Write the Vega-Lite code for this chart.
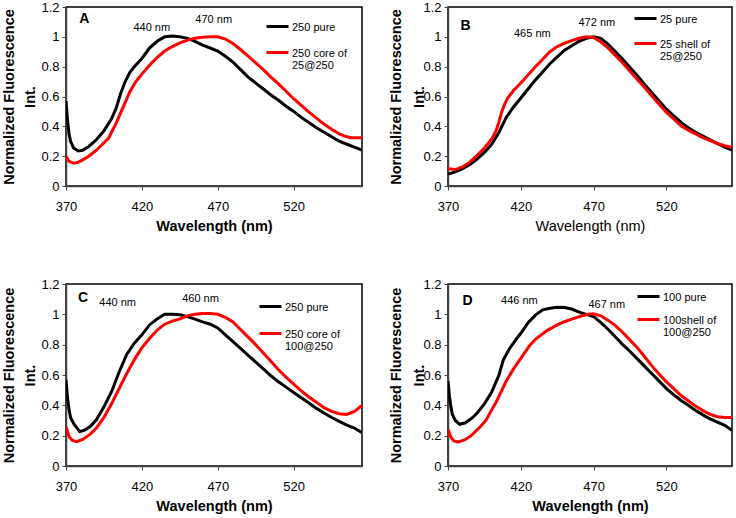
{
  "$schema": "https://vega.github.io/schema/vega-lite/v6.json",
  "padding": {"left": 1, "top": 0, "right": 2, "bottom": 2},
  "background": "white",
  "config": {
    "font": "Liberation Sans",
    "view": {"stroke": "#000000", "strokeWidth": 1.5},
    "axis": {
      "grid": false, "labelFontSize": 13, "labelColor": "#000000", "labelFlush": false, "labelOverlap": false,
      "titleFontSize": 14.5, "titleFontWeight": "bold", "titleColor": "#000000",
      "domainColor": "#444444", "domainWidth": 1.5, "tickColor": "#444444", "tickSize": 4, "tickWidth": 1, "tickCount": 10
    },
    "axisX": {"labelPadding": 10, "titlePadding": 6},
    "axisY": {"labelPadding": 3},
    "legend": {
      "orient": "none", "title": null, "symbolType": "stroke", "symbolSize": 484, "symbolStrokeWidth": 3,
      "labelFontSize": 11, "labelColor": "#000000", "labelBaseline": "alphabetic", "labelOffset": 2, "labelLimit": 200,
      "padding": 0
    },
    "text": {"font": "Liberation Sans", "color": "#000000"}
  },
  "datasets": {
    "spectra": [
      {"panel":"A","series":"250 pure","wavelength":370,"value":0.57},{"panel":"A","series":"250 pure","wavelength":371,"value":0.44},{"panel":"A","series":"250 pure","wavelength":372,"value":0.35},{"panel":"A","series":"250 pure","wavelength":373,"value":0.30},{"panel":"A","series":"250 pure","wavelength":375,"value":0.255},{"panel":"A","series":"250 pure","wavelength":378,"value":0.235},{"panel":"A","series":"250 pure","wavelength":381,"value":0.24},{"panel":"A","series":"250 pure","wavelength":385,"value":0.265},{"panel":"A","series":"250 pure","wavelength":390,"value":0.31},{"panel":"A","series":"250 pure","wavelength":395,"value":0.37},{"panel":"A","series":"250 pure","wavelength":400,"value":0.45},{"panel":"A","series":"250 pure","wavelength":403,"value":0.52},{"panel":"A","series":"250 pure","wavelength":406,"value":0.62},{"panel":"A","series":"250 pure","wavelength":409,"value":0.70},{"panel":"A","series":"250 pure","wavelength":412,"value":0.76},{"panel":"A","series":"250 pure","wavelength":415,"value":0.80},{"panel":"A","series":"250 pure","wavelength":420,"value":0.855},{"panel":"A","series":"250 pure","wavelength":425,"value":0.925},{"panel":"A","series":"250 pure","wavelength":430,"value":0.97},{"panel":"A","series":"250 pure","wavelength":435,"value":1.0},{"panel":"A","series":"250 pure","wavelength":440,"value":1.005},{"panel":"A","series":"250 pure","wavelength":445,"value":1.0},{"panel":"A","series":"250 pure","wavelength":450,"value":0.99},{"panel":"A","series":"250 pure","wavelength":455,"value":0.97},{"panel":"A","series":"250 pure","wavelength":460,"value":0.944},{"panel":"A","series":"250 pure","wavelength":465,"value":0.925},{"panel":"A","series":"250 pure","wavelength":470,"value":0.905},{"panel":"A","series":"250 pure","wavelength":475,"value":0.87},{"panel":"A","series":"250 pure","wavelength":480,"value":0.83},{"panel":"A","series":"250 pure","wavelength":485,"value":0.78},{"panel":"A","series":"250 pure","wavelength":490,"value":0.73},{"panel":"A","series":"250 pure","wavelength":495,"value":0.69},{"panel":"A","series":"250 pure","wavelength":500,"value":0.65},{"panel":"A","series":"250 pure","wavelength":505,"value":0.61},{"panel":"A","series":"250 pure","wavelength":510,"value":0.575},{"panel":"A","series":"250 pure","wavelength":515,"value":0.535},{"panel":"A","series":"250 pure","wavelength":520,"value":0.50},{"panel":"A","series":"250 pure","wavelength":525,"value":0.46},{"panel":"A","series":"250 pure","wavelength":530,"value":0.425},{"panel":"A","series":"250 pure","wavelength":535,"value":0.39},{"panel":"A","series":"250 pure","wavelength":540,"value":0.36},{"panel":"A","series":"250 pure","wavelength":545,"value":0.33},{"panel":"A","series":"250 pure","wavelength":550,"value":0.30},{"panel":"A","series":"250 pure","wavelength":555,"value":0.28},{"panel":"A","series":"250 pure","wavelength":560,"value":0.26},{"panel":"A","series":"250 pure","wavelength":565,"value":0.24},
      {"panel":"A","series":"250 core of 25@250","wavelength":370,"value":0.20},{"panel":"A","series":"250 core of 25@250","wavelength":372,"value":0.165},{"panel":"A","series":"250 core of 25@250","wavelength":375,"value":0.153},{"panel":"A","series":"250 core of 25@250","wavelength":378,"value":0.158},{"panel":"A","series":"250 core of 25@250","wavelength":381,"value":0.175},{"panel":"A","series":"250 core of 25@250","wavelength":385,"value":0.20},{"panel":"A","series":"250 core of 25@250","wavelength":390,"value":0.24},{"panel":"A","series":"250 core of 25@250","wavelength":395,"value":0.29},{"panel":"A","series":"250 core of 25@250","wavelength":398,"value":0.32},{"panel":"A","series":"250 core of 25@250","wavelength":400,"value":0.36},{"panel":"A","series":"250 core of 25@250","wavelength":403,"value":0.42},{"panel":"A","series":"250 core of 25@250","wavelength":406,"value":0.49},{"panel":"A","series":"250 core of 25@250","wavelength":409,"value":0.56},{"panel":"A","series":"250 core of 25@250","wavelength":412,"value":0.63},{"panel":"A","series":"250 core of 25@250","wavelength":416,"value":0.70},{"panel":"A","series":"250 core of 25@250","wavelength":420,"value":0.75},{"panel":"A","series":"250 core of 25@250","wavelength":425,"value":0.81},{"panel":"A","series":"250 core of 25@250","wavelength":430,"value":0.86},{"panel":"A","series":"250 core of 25@250","wavelength":435,"value":0.905},{"panel":"A","series":"250 core of 25@250","wavelength":440,"value":0.935},{"panel":"A","series":"250 core of 25@250","wavelength":445,"value":0.96},{"panel":"A","series":"250 core of 25@250","wavelength":450,"value":0.978},{"panel":"A","series":"250 core of 25@250","wavelength":455,"value":0.99},{"panel":"A","series":"250 core of 25@250","wavelength":460,"value":0.997},{"panel":"A","series":"250 core of 25@250","wavelength":465,"value":1.0},{"panel":"A","series":"250 core of 25@250","wavelength":470,"value":1.0},{"panel":"A","series":"250 core of 25@250","wavelength":475,"value":0.985},{"panel":"A","series":"250 core of 25@250","wavelength":480,"value":0.955},{"panel":"A","series":"250 core of 25@250","wavelength":485,"value":0.915},{"panel":"A","series":"250 core of 25@250","wavelength":490,"value":0.87},{"panel":"A","series":"250 core of 25@250","wavelength":495,"value":0.825},{"panel":"A","series":"250 core of 25@250","wavelength":500,"value":0.78},{"panel":"A","series":"250 core of 25@250","wavelength":505,"value":0.73},{"panel":"A","series":"250 core of 25@250","wavelength":510,"value":0.685},{"panel":"A","series":"250 core of 25@250","wavelength":515,"value":0.635},{"panel":"A","series":"250 core of 25@250","wavelength":520,"value":0.585},{"panel":"A","series":"250 core of 25@250","wavelength":525,"value":0.54},{"panel":"A","series":"250 core of 25@250","wavelength":530,"value":0.495},{"panel":"A","series":"250 core of 25@250","wavelength":535,"value":0.455},{"panel":"A","series":"250 core of 25@250","wavelength":540,"value":0.415},{"panel":"A","series":"250 core of 25@250","wavelength":545,"value":0.38},{"panel":"A","series":"250 core of 25@250","wavelength":550,"value":0.35},{"panel":"A","series":"250 core of 25@250","wavelength":555,"value":0.33},{"panel":"A","series":"250 core of 25@250","wavelength":558,"value":0.323},{"panel":"A","series":"250 core of 25@250","wavelength":565,"value":0.323},
      {"panel":"B","series":"25 pure","wavelength":370,"value":0.08},{"panel":"B","series":"25 pure","wavelength":375,"value":0.095},{"panel":"B","series":"25 pure","wavelength":380,"value":0.117},{"panel":"B","series":"25 pure","wavelength":385,"value":0.145},{"panel":"B","series":"25 pure","wavelength":390,"value":0.18},{"panel":"B","series":"25 pure","wavelength":395,"value":0.225},{"panel":"B","series":"25 pure","wavelength":400,"value":0.28},{"panel":"B","series":"25 pure","wavelength":405,"value":0.36},{"panel":"B","series":"25 pure","wavelength":408,"value":0.42},{"panel":"B","series":"25 pure","wavelength":410,"value":0.46},{"panel":"B","series":"25 pure","wavelength":415,"value":0.53},{"panel":"B","series":"25 pure","wavelength":420,"value":0.59},{"panel":"B","series":"25 pure","wavelength":425,"value":0.65},{"panel":"B","series":"25 pure","wavelength":430,"value":0.71},{"panel":"B","series":"25 pure","wavelength":435,"value":0.765},{"panel":"B","series":"25 pure","wavelength":440,"value":0.82},{"panel":"B","series":"25 pure","wavelength":445,"value":0.865},{"panel":"B","series":"25 pure","wavelength":450,"value":0.91},{"panel":"B","series":"25 pure","wavelength":455,"value":0.94},{"panel":"B","series":"25 pure","wavelength":460,"value":0.97},{"panel":"B","series":"25 pure","wavelength":465,"value":0.99},{"panel":"B","series":"25 pure","wavelength":470,"value":1.0},{"panel":"B","series":"25 pure","wavelength":475,"value":0.99},{"panel":"B","series":"25 pure","wavelength":480,"value":0.95},{"panel":"B","series":"25 pure","wavelength":485,"value":0.9},{"panel":"B","series":"25 pure","wavelength":490,"value":0.85},{"panel":"B","series":"25 pure","wavelength":495,"value":0.795},{"panel":"B","series":"25 pure","wavelength":500,"value":0.74},{"panel":"B","series":"25 pure","wavelength":505,"value":0.68},{"panel":"B","series":"25 pure","wavelength":510,"value":0.625},{"panel":"B","series":"25 pure","wavelength":515,"value":0.57},{"panel":"B","series":"25 pure","wavelength":520,"value":0.515},{"panel":"B","series":"25 pure","wavelength":525,"value":0.47},{"panel":"B","series":"25 pure","wavelength":530,"value":0.426},{"panel":"B","series":"25 pure","wavelength":535,"value":0.39},{"panel":"B","series":"25 pure","wavelength":540,"value":0.36},{"panel":"B","series":"25 pure","wavelength":545,"value":0.335},{"panel":"B","series":"25 pure","wavelength":550,"value":0.31},{"panel":"B","series":"25 pure","wavelength":555,"value":0.285},{"panel":"B","series":"25 pure","wavelength":560,"value":0.26},{"panel":"B","series":"25 pure","wavelength":565,"value":0.24},
      {"panel":"B","series":"25 shell of 25@250","wavelength":370,"value":0.115},{"panel":"B","series":"25 shell of 25@250","wavelength":375,"value":0.11},{"panel":"B","series":"25 shell of 25@250","wavelength":380,"value":0.128},{"panel":"B","series":"25 shell of 25@250","wavelength":385,"value":0.16},{"panel":"B","series":"25 shell of 25@250","wavelength":390,"value":0.205},{"panel":"B","series":"25 shell of 25@250","wavelength":395,"value":0.255},{"panel":"B","series":"25 shell of 25@250","wavelength":400,"value":0.316},{"panel":"B","series":"25 shell of 25@250","wavelength":403,"value":0.37},{"panel":"B","series":"25 shell of 25@250","wavelength":405,"value":0.43},{"panel":"B","series":"25 shell of 25@250","wavelength":407,"value":0.5},{"panel":"B","series":"25 shell of 25@250","wavelength":409,"value":0.55},{"panel":"B","series":"25 shell of 25@250","wavelength":411,"value":0.59},{"panel":"B","series":"25 shell of 25@250","wavelength":415,"value":0.64},{"panel":"B","series":"25 shell of 25@250","wavelength":420,"value":0.69},{"panel":"B","series":"25 shell of 25@250","wavelength":425,"value":0.745},{"panel":"B","series":"25 shell of 25@250","wavelength":430,"value":0.80},{"panel":"B","series":"25 shell of 25@250","wavelength":435,"value":0.85},{"panel":"B","series":"25 shell of 25@250","wavelength":440,"value":0.90},{"panel":"B","series":"25 shell of 25@250","wavelength":445,"value":0.935},{"panel":"B","series":"25 shell of 25@250","wavelength":450,"value":0.957},{"panel":"B","series":"25 shell of 25@250","wavelength":455,"value":0.975},{"panel":"B","series":"25 shell of 25@250","wavelength":460,"value":0.99},{"panel":"B","series":"25 shell of 25@250","wavelength":465,"value":1.0},{"panel":"B","series":"25 shell of 25@250","wavelength":470,"value":0.995},{"panel":"B","series":"25 shell of 25@250","wavelength":475,"value":0.965},{"panel":"B","series":"25 shell of 25@250","wavelength":480,"value":0.924},{"panel":"B","series":"25 shell of 25@250","wavelength":485,"value":0.875},{"panel":"B","series":"25 shell of 25@250","wavelength":490,"value":0.824},{"panel":"B","series":"25 shell of 25@250","wavelength":495,"value":0.77},{"panel":"B","series":"25 shell of 25@250","wavelength":500,"value":0.714},{"panel":"B","series":"25 shell of 25@250","wavelength":505,"value":0.66},{"panel":"B","series":"25 shell of 25@250","wavelength":510,"value":0.603},{"panel":"B","series":"25 shell of 25@250","wavelength":515,"value":0.548},{"panel":"B","series":"25 shell of 25@250","wavelength":520,"value":0.493},{"panel":"B","series":"25 shell of 25@250","wavelength":525,"value":0.45},{"panel":"B","series":"25 shell of 25@250","wavelength":530,"value":0.404},{"panel":"B","series":"25 shell of 25@250","wavelength":535,"value":0.375},{"panel":"B","series":"25 shell of 25@250","wavelength":540,"value":0.35},{"panel":"B","series":"25 shell of 25@250","wavelength":545,"value":0.325},{"panel":"B","series":"25 shell of 25@250","wavelength":550,"value":0.305},{"panel":"B","series":"25 shell of 25@250","wavelength":555,"value":0.285},{"panel":"B","series":"25 shell of 25@250","wavelength":560,"value":0.27},{"panel":"B","series":"25 shell of 25@250","wavelength":565,"value":0.26},
      {"panel":"C","series":"250 pure","wavelength":370,"value":0.57},{"panel":"C","series":"250 pure","wavelength":371,"value":0.45},{"panel":"C","series":"250 pure","wavelength":372,"value":0.37},{"panel":"C","series":"250 pure","wavelength":373,"value":0.32},{"panel":"C","series":"250 pure","wavelength":375,"value":0.28},{"panel":"C","series":"250 pure","wavelength":379,"value":0.227},{"panel":"C","series":"250 pure","wavelength":382,"value":0.235},{"panel":"C","series":"250 pure","wavelength":386,"value":0.26},{"panel":"C","series":"250 pure","wavelength":390,"value":0.305},{"panel":"C","series":"250 pure","wavelength":395,"value":0.39},{"panel":"C","series":"250 pure","wavelength":400,"value":0.49},{"panel":"C","series":"250 pure","wavelength":405,"value":0.62},{"panel":"C","series":"250 pure","wavelength":410,"value":0.735},{"panel":"C","series":"250 pure","wavelength":415,"value":0.81},{"panel":"C","series":"250 pure","wavelength":420,"value":0.865},{"panel":"C","series":"250 pure","wavelength":425,"value":0.93},{"panel":"C","series":"250 pure","wavelength":430,"value":0.97},{"panel":"C","series":"250 pure","wavelength":435,"value":1.0},{"panel":"C","series":"250 pure","wavelength":440,"value":1.0},{"panel":"C","series":"250 pure","wavelength":445,"value":0.997},{"panel":"C","series":"250 pure","wavelength":450,"value":0.985},{"panel":"C","series":"250 pure","wavelength":455,"value":0.968},{"panel":"C","series":"250 pure","wavelength":460,"value":0.95},{"panel":"C","series":"250 pure","wavelength":465,"value":0.935},{"panel":"C","series":"250 pure","wavelength":470,"value":0.91},{"panel":"C","series":"250 pure","wavelength":475,"value":0.865},{"panel":"C","series":"250 pure","wavelength":480,"value":0.82},{"panel":"C","series":"250 pure","wavelength":485,"value":0.775},{"panel":"C","series":"250 pure","wavelength":490,"value":0.73},{"panel":"C","series":"250 pure","wavelength":495,"value":0.685},{"panel":"C","series":"250 pure","wavelength":500,"value":0.64},{"panel":"C","series":"250 pure","wavelength":505,"value":0.595},{"panel":"C","series":"250 pure","wavelength":510,"value":0.555},{"panel":"C","series":"250 pure","wavelength":515,"value":0.52},{"panel":"C","series":"250 pure","wavelength":520,"value":0.485},{"panel":"C","series":"250 pure","wavelength":525,"value":0.45},{"panel":"C","series":"250 pure","wavelength":530,"value":0.415},{"panel":"C","series":"250 pure","wavelength":535,"value":0.38},{"panel":"C","series":"250 pure","wavelength":540,"value":0.35},{"panel":"C","series":"250 pure","wavelength":545,"value":0.32},{"panel":"C","series":"250 pure","wavelength":550,"value":0.294},{"panel":"C","series":"250 pure","wavelength":555,"value":0.27},{"panel":"C","series":"250 pure","wavelength":560,"value":0.25},{"panel":"C","series":"250 pure","wavelength":565,"value":0.22},
      {"panel":"C","series":"250 core of 100@250","wavelength":370,"value":0.26},{"panel":"C","series":"250 core of 100@250","wavelength":372,"value":0.195},{"panel":"C","series":"250 core of 100@250","wavelength":374,"value":0.17},{"panel":"C","series":"250 core of 100@250","wavelength":377,"value":0.16},{"panel":"C","series":"250 core of 100@250","wavelength":381,"value":0.175},{"panel":"C","series":"250 core of 100@250","wavelength":386,"value":0.21},{"panel":"C","series":"250 core of 100@250","wavelength":390,"value":0.25},{"panel":"C","series":"250 core of 100@250","wavelength":395,"value":0.32},{"panel":"C","series":"250 core of 100@250","wavelength":400,"value":0.41},{"panel":"C","series":"250 core of 100@250","wavelength":405,"value":0.51},{"panel":"C","series":"250 core of 100@250","wavelength":410,"value":0.61},{"panel":"C","series":"250 core of 100@250","wavelength":415,"value":0.70},{"panel":"C","series":"250 core of 100@250","wavelength":420,"value":0.78},{"panel":"C","series":"250 core of 100@250","wavelength":425,"value":0.84},{"panel":"C","series":"250 core of 100@250","wavelength":430,"value":0.895},{"panel":"C","series":"250 core of 100@250","wavelength":435,"value":0.935},{"panel":"C","series":"250 core of 100@250","wavelength":440,"value":0.955},{"panel":"C","series":"250 core of 100@250","wavelength":445,"value":0.97},{"panel":"C","series":"250 core of 100@250","wavelength":450,"value":0.99},{"panel":"C","series":"250 core of 100@250","wavelength":455,"value":1.0},{"panel":"C","series":"250 core of 100@250","wavelength":460,"value":1.005},{"panel":"C","series":"250 core of 100@250","wavelength":465,"value":1.005},{"panel":"C","series":"250 core of 100@250","wavelength":470,"value":1.0},{"panel":"C","series":"250 core of 100@250","wavelength":475,"value":0.98},{"panel":"C","series":"250 core of 100@250","wavelength":480,"value":0.95},{"panel":"C","series":"250 core of 100@250","wavelength":485,"value":0.90},{"panel":"C","series":"250 core of 100@250","wavelength":490,"value":0.85},{"panel":"C","series":"250 core of 100@250","wavelength":495,"value":0.80},{"panel":"C","series":"250 core of 100@250","wavelength":500,"value":0.745},{"panel":"C","series":"250 core of 100@250","wavelength":505,"value":0.69},{"panel":"C","series":"250 core of 100@250","wavelength":510,"value":0.635},{"panel":"C","series":"250 core of 100@250","wavelength":515,"value":0.585},{"panel":"C","series":"250 core of 100@250","wavelength":520,"value":0.54},{"panel":"C","series":"250 core of 100@250","wavelength":525,"value":0.495},{"panel":"C","series":"250 core of 100@250","wavelength":530,"value":0.455},{"panel":"C","series":"250 core of 100@250","wavelength":535,"value":0.42},{"panel":"C","series":"250 core of 100@250","wavelength":540,"value":0.385},{"panel":"C","series":"250 core of 100@250","wavelength":545,"value":0.36},{"panel":"C","series":"250 core of 100@250","wavelength":550,"value":0.345},{"panel":"C","series":"250 core of 100@250","wavelength":555,"value":0.34},{"panel":"C","series":"250 core of 100@250","wavelength":560,"value":0.36},{"panel":"C","series":"250 core of 100@250","wavelength":565,"value":0.40},
      {"panel":"D","series":"100 pure","wavelength":370,"value":0.56},{"panel":"D","series":"100 pure","wavelength":371,"value":0.46},{"panel":"D","series":"100 pure","wavelength":372,"value":0.39},{"panel":"D","series":"100 pure","wavelength":373,"value":0.34},{"panel":"D","series":"100 pure","wavelength":375,"value":0.30},{"panel":"D","series":"100 pure","wavelength":378,"value":0.275},{"panel":"D","series":"100 pure","wavelength":382,"value":0.285},{"panel":"D","series":"100 pure","wavelength":387,"value":0.32},{"panel":"D","series":"100 pure","wavelength":390,"value":0.35},{"panel":"D","series":"100 pure","wavelength":395,"value":0.41},{"panel":"D","series":"100 pure","wavelength":400,"value":0.487},{"panel":"D","series":"100 pure","wavelength":405,"value":0.60},{"panel":"D","series":"100 pure","wavelength":408,"value":0.70},{"panel":"D","series":"100 pure","wavelength":412,"value":0.77},{"panel":"D","series":"100 pure","wavelength":417,"value":0.838},{"panel":"D","series":"100 pure","wavelength":420,"value":0.875},{"panel":"D","series":"100 pure","wavelength":425,"value":0.945},{"panel":"D","series":"100 pure","wavelength":430,"value":0.995},{"panel":"D","series":"100 pure","wavelength":435,"value":1.03},{"panel":"D","series":"100 pure","wavelength":440,"value":1.04},{"panel":"D","series":"100 pure","wavelength":445,"value":1.047},{"panel":"D","series":"100 pure","wavelength":450,"value":1.045},{"panel":"D","series":"100 pure","wavelength":455,"value":1.035},{"panel":"D","series":"100 pure","wavelength":460,"value":1.015},{"panel":"D","series":"100 pure","wavelength":465,"value":1.0},{"panel":"D","series":"100 pure","wavelength":470,"value":0.985},{"panel":"D","series":"100 pure","wavelength":475,"value":0.945},{"panel":"D","series":"100 pure","wavelength":480,"value":0.90},{"panel":"D","series":"100 pure","wavelength":485,"value":0.85},{"panel":"D","series":"100 pure","wavelength":490,"value":0.80},{"panel":"D","series":"100 pure","wavelength":495,"value":0.755},{"panel":"D","series":"100 pure","wavelength":500,"value":0.706},{"panel":"D","series":"100 pure","wavelength":505,"value":0.657},{"panel":"D","series":"100 pure","wavelength":510,"value":0.608},{"panel":"D","series":"100 pure","wavelength":515,"value":0.56},{"panel":"D","series":"100 pure","wavelength":520,"value":0.51},{"panel":"D","series":"100 pure","wavelength":525,"value":0.47},{"panel":"D","series":"100 pure","wavelength":530,"value":0.432},{"panel":"D","series":"100 pure","wavelength":535,"value":0.40},{"panel":"D","series":"100 pure","wavelength":540,"value":0.366},{"panel":"D","series":"100 pure","wavelength":545,"value":0.337},{"panel":"D","series":"100 pure","wavelength":550,"value":0.31},{"panel":"D","series":"100 pure","wavelength":555,"value":0.29},{"panel":"D","series":"100 pure","wavelength":560,"value":0.268},{"panel":"D","series":"100 pure","wavelength":565,"value":0.235},
      {"panel":"D","series":"100shell of 100@250","wavelength":370,"value":0.24},{"panel":"D","series":"100shell of 100@250","wavelength":372,"value":0.19},{"panel":"D","series":"100shell of 100@250","wavelength":374,"value":0.165},{"panel":"D","series":"100shell of 100@250","wavelength":377,"value":0.158},{"panel":"D","series":"100shell of 100@250","wavelength":381,"value":0.17},{"panel":"D","series":"100shell of 100@250","wavelength":386,"value":0.20},{"panel":"D","series":"100shell of 100@250","wavelength":392,"value":0.257},{"panel":"D","series":"100shell of 100@250","wavelength":396,"value":0.30},{"panel":"D","series":"100shell of 100@250","wavelength":400,"value":0.37},{"panel":"D","series":"100shell of 100@250","wavelength":403,"value":0.42},{"panel":"D","series":"100shell of 100@250","wavelength":406,"value":0.48},{"panel":"D","series":"100shell of 100@250","wavelength":410,"value":0.56},{"panel":"D","series":"100shell of 100@250","wavelength":415,"value":0.64},{"panel":"D","series":"100shell of 100@250","wavelength":420,"value":0.71},{"panel":"D","series":"100shell of 100@250","wavelength":426,"value":0.794},{"panel":"D","series":"100shell of 100@250","wavelength":430,"value":0.835},{"panel":"D","series":"100shell of 100@250","wavelength":438,"value":0.893},{"panel":"D","series":"100shell of 100@250","wavelength":445,"value":0.93},{"panel":"D","series":"100shell of 100@250","wavelength":449,"value":0.948},{"panel":"D","series":"100shell of 100@250","wavelength":455,"value":0.968},{"panel":"D","series":"100shell of 100@250","wavelength":461,"value":0.987},{"panel":"D","series":"100shell of 100@250","wavelength":466,"value":1.0},{"panel":"D","series":"100shell of 100@250","wavelength":470,"value":1.003},{"panel":"D","series":"100shell of 100@250","wavelength":475,"value":0.99},{"panel":"D","series":"100shell of 100@250","wavelength":480,"value":0.96},{"panel":"D","series":"100shell of 100@250","wavelength":485,"value":0.926},{"panel":"D","series":"100shell of 100@250","wavelength":490,"value":0.88},{"panel":"D","series":"100shell of 100@250","wavelength":495,"value":0.83},{"panel":"D","series":"100shell of 100@250","wavelength":500,"value":0.78},{"panel":"D","series":"100shell of 100@250","wavelength":505,"value":0.72},{"panel":"D","series":"100shell of 100@250","wavelength":510,"value":0.66},{"panel":"D","series":"100shell of 100@250","wavelength":515,"value":0.605},{"panel":"D","series":"100shell of 100@250","wavelength":520,"value":0.555},{"panel":"D","series":"100shell of 100@250","wavelength":525,"value":0.51},{"panel":"D","series":"100shell of 100@250","wavelength":530,"value":0.465},{"panel":"D","series":"100shell of 100@250","wavelength":535,"value":0.43},{"panel":"D","series":"100shell of 100@250","wavelength":540,"value":0.395},{"panel":"D","series":"100shell of 100@250","wavelength":545,"value":0.365},{"panel":"D","series":"100shell of 100@250","wavelength":550,"value":0.34},{"panel":"D","series":"100shell of 100@250","wavelength":555,"value":0.325},{"panel":"D","series":"100shell of 100@250","wavelength":560,"value":0.32},{"panel":"D","series":"100shell of 100@250","wavelength":565,"value":0.32}
    ],
    "notes": [
      {"panel":"A","kind":"letter","wavelength":382,"value":1.12,"label":"A"},
      {"panel":"A","kind":"peak","wavelength":426.5,"value":1.06,"label":"440 nm"},
      {"panel":"A","kind":"peak","wavelength":467.3,"value":1.114,"label":"470 nm"},
      {"panel":"B","kind":"letter","wavelength":382,"value":1.074,"label":"B"},
      {"panel":"B","kind":"peak","wavelength":427.9,"value":1.019,"label":"465 nm"},
      {"panel":"B","kind":"peak","wavelength":472.2,"value":1.096,"label":"472 nm"},
      {"panel":"C","kind":"letter","wavelength":381.2,"value":1.11,"label":"C"},
      {"panel":"C","kind":"peak","wavelength":404,"value":1.078,"label":"440 nm"},
      {"panel":"C","kind":"peak","wavelength":458.6,"value":1.10,"label":"460 nm"},
      {"panel":"D","kind":"letter","wavelength":383.4,"value":1.09,"label":"D"},
      {"panel":"D","kind":"peak","wavelength":419,"value":1.09,"label":"446 nm"},
      {"panel":"D","kind":"peak","wavelength":479,"value":1.06,"label":"467 nm"}
    ]
  },
  "resolve": {"scale": {"color": "independent"}, "legend": {"color": "independent"}},
  "spacing": 43,
  "vconcat": [
    {
      "spacing": 25,
      "resolve": {"scale": {"color": "independent"}, "legend": {"color": "independent"}},
      "hconcat": [
        {
          "width": 296, "height": 179,
          "layer": [
            {
              "data": {"name": "spectra"},
              "transform": [{"filter": "datum.panel == 'A'"}],
              "mark": {"type": "line", "strokeWidth": 3, "clip": true},
              "encoding": {
                "x": {"field": "wavelength", "type": "quantitative", "scale": {"domain": [370, 565], "nice": false, "zero": false}, "axis": {"values": [370, 420, 470, 520], "title": "Wavelength (nm)"}},
                "y": {"field": "value", "type": "quantitative", "scale": {"domain": [0, 1.2], "nice": false}, "axis": {"values": [0, 0.2, 0.4, 0.6, 0.8, 1, 1.2], "tickCount": 10, "labelOverlap": false, "format": "~g", "title": ["Normalized Fluorescence", "Int."], "titleLineHeight": 21, "titlePadding": 3}},
                "color": {"field": "series", "type": "nominal", "scale": {"domain": ["250 pure", "250 core of 25@250"], "range": ["#000000", "#ff0000"]}, "legend": {"legendX": 199, "legendY": 7, "rowPadding": 7, "labelExpr": "indexof(datum.label, ' of ') > 0 ? [substring(datum.label, 0, indexof(datum.label, ' of ') + 3), substring(datum.label, indexof(datum.label, ' of ') + 4)] : datum.label", "encode": {"labels": {"update": {"dy": {"value": 4}, "lineHeight": {"value": 12}}}}}}
              }
            },
            {
              "data": {"name": "notes"},
              "transform": [{"filter": "datum.panel == 'A' && datum.kind == 'letter'"}],
              "mark": {"type": "text", "fontSize": 14, "fontWeight": "bold"},
              "encoding": {"x": {"field": "wavelength", "type": "quantitative"}, "y": {"field": "value", "type": "quantitative"}, "text": {"field": "label"}}
            },
            {
              "data": {"name": "notes"},
              "transform": [{"filter": "datum.panel == 'A' && datum.kind == 'peak'"}],
              "mark": {"type": "text", "fontSize": 11},
              "encoding": {"x": {"field": "wavelength", "type": "quantitative"}, "y": {"field": "value", "type": "quantitative"}, "text": {"field": "label"}}
            }
          ]
        },
        {
          "width": 284, "height": 179,
          "layer": [
            {
              "data": {"name": "spectra"},
              "transform": [{"filter": "datum.panel == 'B'"}],
              "mark": {"type": "line", "strokeWidth": 3, "clip": true},
              "encoding": {
                "x": {"field": "wavelength", "type": "quantitative", "scale": {"domain": [370, 565], "nice": false, "zero": false}, "axis": {"values": [370, 420, 470, 520], "title": "Wavelength (nm)", "titleFontWeight": "normal"}},
                "y": {"field": "value", "type": "quantitative", "scale": {"domain": [0, 1.2], "nice": false}, "axis": {"values": [0, 0.2, 0.4, 0.6, 0.8, 1, 1.2], "tickCount": 10, "labelOverlap": false, "format": "~g", "title": ["Normalized Fluorescence", "Int."], "titleLineHeight": 23, "titlePadding": -4}},
                "color": {"field": "series", "type": "nominal", "scale": {"domain": ["25 pure", "25 shell of 25@250"], "range": ["#000000", "#ff0000"]}, "legend": {"legendX": 185, "legendY": -1, "rowPadding": 6, "labelExpr": "indexof(datum.label, ' of ') > 0 ? [substring(datum.label, 0, indexof(datum.label, ' of ') + 3), substring(datum.label, indexof(datum.label, ' of ') + 4)] : datum.label", "encode": {"labels": {"update": {"dy": {"value": 4}, "lineHeight": {"value": 12}}}}}}
              }
            },
            {
              "data": {"name": "notes"},
              "transform": [{"filter": "datum.panel == 'B' && datum.kind == 'letter'"}],
              "mark": {"type": "text", "fontSize": 14, "fontWeight": "bold"},
              "encoding": {"x": {"field": "wavelength", "type": "quantitative"}, "y": {"field": "value", "type": "quantitative"}, "text": {"field": "label"}}
            },
            {
              "data": {"name": "notes"},
              "transform": [{"filter": "datum.panel == 'B' && datum.kind == 'peak'"}],
              "mark": {"type": "text", "fontSize": 11},
              "encoding": {"x": {"field": "wavelength", "type": "quantitative"}, "y": {"field": "value", "type": "quantitative"}, "text": {"field": "label"}}
            }
          ]
        }
      ]
    },
    {
      "spacing": 25,
      "resolve": {"scale": {"color": "independent"}, "legend": {"color": "independent"}},
      "hconcat": [
        {
          "width": 296, "height": 182,
          "layer": [
            {
              "data": {"name": "spectra"},
              "transform": [{"filter": "datum.panel == 'C'"}],
              "mark": {"type": "line", "strokeWidth": 3, "clip": true},
              "encoding": {
                "x": {"field": "wavelength", "type": "quantitative", "scale": {"domain": [370, 565], "nice": false, "zero": false}, "axis": {"values": [370, 420, 470, 520], "title": "Wavelength (nm)"}},
                "y": {"field": "value", "type": "quantitative", "scale": {"domain": [0, 1.2], "nice": false}, "axis": {"values": [0, 0.2, 0.4, 0.6, 0.8, 1, 1.2], "tickCount": 10, "labelOverlap": false, "format": "~g", "title": ["Normalized Fluorescence", "Int."], "titleLineHeight": 21, "titlePadding": 3}},
                "color": {"field": "series", "type": "nominal", "scale": {"domain": ["250 pure", "250 core of 100@250"], "range": ["#000000", "#ff0000"]}, "legend": {"legendX": 192, "legendY": 10, "rowPadding": 8, "labelExpr": "indexof(datum.label, ' of ') > 0 ? [substring(datum.label, 0, indexof(datum.label, ' of ') + 3), substring(datum.label, indexof(datum.label, ' of ') + 4)] : datum.label", "encode": {"labels": {"update": {"dy": {"value": 4}, "lineHeight": {"value": 12}}}}}}
              }
            },
            {
              "data": {"name": "notes"},
              "transform": [{"filter": "datum.panel == 'C' && datum.kind == 'letter'"}],
              "mark": {"type": "text", "fontSize": 14, "fontWeight": "bold"},
              "encoding": {"x": {"field": "wavelength", "type": "quantitative"}, "y": {"field": "value", "type": "quantitative"}, "text": {"field": "label"}}
            },
            {
              "data": {"name": "notes"},
              "transform": [{"filter": "datum.panel == 'C' && datum.kind == 'peak'"}],
              "mark": {"type": "text", "fontSize": 11},
              "encoding": {"x": {"field": "wavelength", "type": "quantitative"}, "y": {"field": "value", "type": "quantitative"}, "text": {"field": "label"}}
            }
          ]
        },
        {
          "width": 284, "height": 182,
          "layer": [
            {
              "data": {"name": "spectra"},
              "transform": [{"filter": "datum.panel == 'D'"}],
              "mark": {"type": "line", "strokeWidth": 3, "clip": true},
              "encoding": {
                "x": {"field": "wavelength", "type": "quantitative", "scale": {"domain": [370, 565], "nice": false, "zero": false}, "axis": {"values": [370, 420, 470, 520], "title": "Wavelength (nm)"}},
                "y": {"field": "value", "type": "quantitative", "scale": {"domain": [0, 1.2], "nice": false}, "axis": {"values": [0, 0.2, 0.4, 0.6, 0.8, 1, 1.2], "tickCount": 10, "labelOverlap": false, "format": "~g", "title": ["Normalized Fluorescence", "Int."], "titleLineHeight": 23, "titlePadding": -4}},
                "color": {"field": "series", "type": "nominal", "scale": {"domain": ["100 pure", "100shell of 100@250"], "range": ["#000000", "#ff0000"]}, "legend": {"legendX": 188, "legendY": 0, "rowPadding": 4, "labelExpr": "indexof(datum.label, ' of ') > 0 ? [substring(datum.label, 0, indexof(datum.label, ' of ') + 3), substring(datum.label, indexof(datum.label, ' of ') + 4)] : datum.label", "encode": {"labels": {"update": {"dy": {"value": 4}, "lineHeight": {"value": 12}}}}}}
              }
            },
            {
              "data": {"name": "notes"},
              "transform": [{"filter": "datum.panel == 'D' && datum.kind == 'letter'"}],
              "mark": {"type": "text", "fontSize": 14, "fontWeight": "bold"},
              "encoding": {"x": {"field": "wavelength", "type": "quantitative"}, "y": {"field": "value", "type": "quantitative"}, "text": {"field": "label"}}
            },
            {
              "data": {"name": "notes"},
              "transform": [{"filter": "datum.panel == 'D' && datum.kind == 'peak'"}],
              "mark": {"type": "text", "fontSize": 11},
              "encoding": {"x": {"field": "wavelength", "type": "quantitative"}, "y": {"field": "value", "type": "quantitative"}, "text": {"field": "label"}}
            }
          ]
        }
      ]
    }
  ]
}
